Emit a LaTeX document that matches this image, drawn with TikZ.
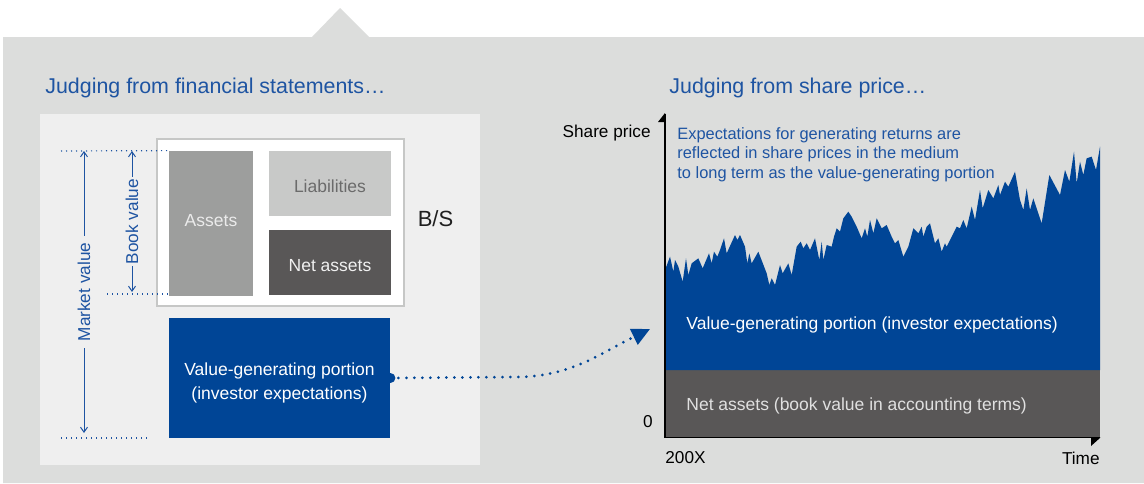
\documentclass[tikz,border=0pt]{standalone}
\usepackage{fontspec}
\setmainfont{Liberation Sans}
\usetikzlibrary{arrows.meta}
\definecolor{bggray}{HTML}{DCDDDC}
\definecolor{panelgray}{HTML}{EFEFEF}
\definecolor{framegray}{HTML}{C6C7C6}
\definecolor{assetgray}{HTML}{9D9E9D}
\definecolor{liabgray}{HTML}{C8C9C8}
\definecolor{netgray}{HTML}{595757}
\definecolor{vgblue}{RGB}{0,69,150}
\definecolor{txtblue}{RGB}{30,84,162}
\tikzset{
  ttl/.style={anchor=base west,inner sep=0pt,text=txtblue,font=\fontsize{10.7}{12}\selectfont},
  lbl/.style={inner sep=0pt,font=\fontsize{8.6}{12}\selectfont},
  bsbox/.style={inner sep=0pt,align=center,font=\fontsize{8.75}{12}\selectfont},
  dimdots/.style={txtblue,line width=.6pt,dash pattern=on .6pt off 1.9pt},
  dimarrow/.style={txtblue,line width=.5pt,{Straight Barb[length=2.5pt,width=3.5pt]}-{Straight Barb[length=2.5pt,width=3.5pt]}},
  flowdots/.style={vgblue,line width=1.5pt,line cap=round,dash pattern=on 0pt off 4pt,-{Triangle[length=9pt,width=8.5pt]}}
}
\begin{document}
\begin{tikzpicture}[x=.5pt,y=-.5pt]
  \useasboundingbox (0,0) rectangle (1144,483);
  \fill[bggray] (3,37)--(312,37)--(340,8)--(369,37)--(1144,37)--(1144,483)--(3,483)--cycle;
  \fill[panelgray] (40,114) rectangle (480,465);
  \node[ttl] (ttlfs) at (45,93) {Judging from financial statements…};
  \node[ttl] (ttlsp) at (669,93) {Judging from share price…};
  % balance sheet
  \node[draw=framegray,fill=white,line width=.75pt,minimum width=123.5pt,minimum height=83.5pt] (bs) at (280.5,222.5) {};
  \foreach \nm/\cx/\cy/\w/\h/\fc/\tc/\th/\td/\txt in {%
    assets/211/223.5/84/145/assetgray/white!92!black/6.3pt/3pt/Assets,
    liab/330/183.5/122/65/liabgray/black!58/8.9pt/0pt/Liabilities,
    netas/330/262.5/122/65/netgray/white!94!black/9.3pt/0pt/Net assets}{%
      \node[bsbox,fill=\fc,text=\tc,text height=\th,text depth=\td,minimum width=\w*.5pt,minimum height=\h*.5pt] (\nm) at (\cx,\cy) {\txt};
    }
  \node[inner sep=0pt,font=\fontsize{11}{13}\selectfont,text=black!88] (bslbl) at (435.5,219) {B/S};
  \node[bsbox,fill=vgblue,text=white,text height=23.4pt,minimum width=110.5pt,minimum height=60pt] (vgp) at (279.5,378)
    {Value-generating portion\\(investor expectations)};
  % market value and book value
  \coordinate (mvtop) at (84,151);
  \coordinate (mvbot) at (84,433);
  \coordinate (bvtop) at (132,151);
  \coordinate (bvbot) at (132,292);
  \draw[dimdots] (61,151) -- (assets.north west);
  \draw[dimdots] (107,294) -- (assets.south west |- 0,294);
  \draw[dimdots] (61,438) -- (148,438);
  \draw[dimarrow] (mvtop) -- node[fill=panelgray,rotate=90,inner xsep=3.5pt,inner ysep=0pt,text=txtblue,font=\fontsize{8.6}{10}\selectfont] (mvlbl) {Market value} (mvbot);
  \draw[dimarrow] (bvtop) -- node[fill=panelgray,rotate=90,inner xsep=1pt,inner ysep=0pt,text=txtblue,font=\fontsize{8.6}{10}\selectfont] (bvlbl) {Book value} (bvbot);
  % share price chart
  \fill[netgray] (665,370) rectangle (1100,437);
  \begin{scope}[shift={(630,100)},scale=1/3]
    \fill[vgblue] plot coordinates {(105,810) (105,510) (120,470) (130,515) (135,480) (145,500) (158,545) (168,475)
      (175,525) (185,490) (205,475) (218,505) (237,460) (245,490) (252,455) (262,470) (270,450) (282,415)
      (290,460) (315,405) (322,420) (330,405) (345,440) (352,490) (358,460) (365,490) (385,455) (410,520)
      (418,555) (425,535) (435,555) (450,495) (458,520) (475,490) (485,525) (500,440) (512,425) (520,445)
      (530,430) (540,450) (555,415) (568,480) (575,425) (580,480) (590,435) (605,440) (612,410) (620,385)
      (630,395) (640,355) (655,335) (665,350) (680,380) (695,415) (705,385) (712,410) (720,360) (730,400)
      (740,355) (755,385) (770,375) (785,410) (795,430) (805,420) (820,470) (835,440) (850,385) (865,400)
      (875,380) (880,410) (890,380) (900,370) (915,430) (925,415) (935,455) (945,430) (950,440) (980,380)
      (990,385) (1000,360) (1010,385) (1025,320) (1035,360) (1050,270) (1058,325) (1075,270) (1090,295)
      (1105,255) (1110,285) (1125,245) (1135,260) (1155,215) (1170,300) (1180,330) (1190,265) (1200,330)
      (1210,295) (1235,370) (1258,225) (1290,285) (1305,210) (1318,245) (1332,155) (1340,250) (1350,185)
      (1360,225) (1370,175) (1385,170) (1398,210) (1410,140) (1410,810)} -- cycle;
  \end{scope}
  \coordinate (ytop) at (665,114);
  \coordinate (orig) at (665,437.5);
  \coordinate (xend) at (1100,437.5);
  \draw[line width=.75pt] (ytop) -- (orig) -- (xend);
  \fill (665,113) -- (658,122) -- (665,122) -- cycle;
  \fill (1091,437.5) -- (1100.5,437.5) -- (1091,446) -- cycle;
  \node[lbl,anchor=east] (shp) at (651,133) {Share price};
  \node[lbl] (zero) at (648,422) {0};
  \node[lbl,anchor=west] (yr) at (665,458) {200X};
  \node[lbl,anchor=east] (time) at (1100,458) {Time};
  \node[anchor=north west,inner sep=0pt,align=left,text=txtblue,font=\fontsize{8.2}{9.75}\selectfont] (note) at (677,127)
    {Expectations for generating returns are\\reflected in share prices in the medium\\to long term as the value-generating portion};
  \node[anchor=west,inner sep=0pt,font=\fontsize{8.75}{12}\selectfont,text=white] (vglbl) at (686,325) {Value-generating portion (investor expectations)};
  \node[anchor=west,inner sep=0pt,font=\fontsize{8.75}{12}\selectfont,text=white!88!black] (nalbl) at (686,406) {Net assets (book value in accounting terms)};
  % arrow to chart
  \coordinate (bend) at (515,377);
  \coordinate (arrend) at (650,329);
  \draw[flowdots] (vgp.east) -- (bend) to[out=0,in=206] (arrend);
  \fill[vgblue] (vgp.east) circle (2.5pt);
\end{tikzpicture}
\end{document}
